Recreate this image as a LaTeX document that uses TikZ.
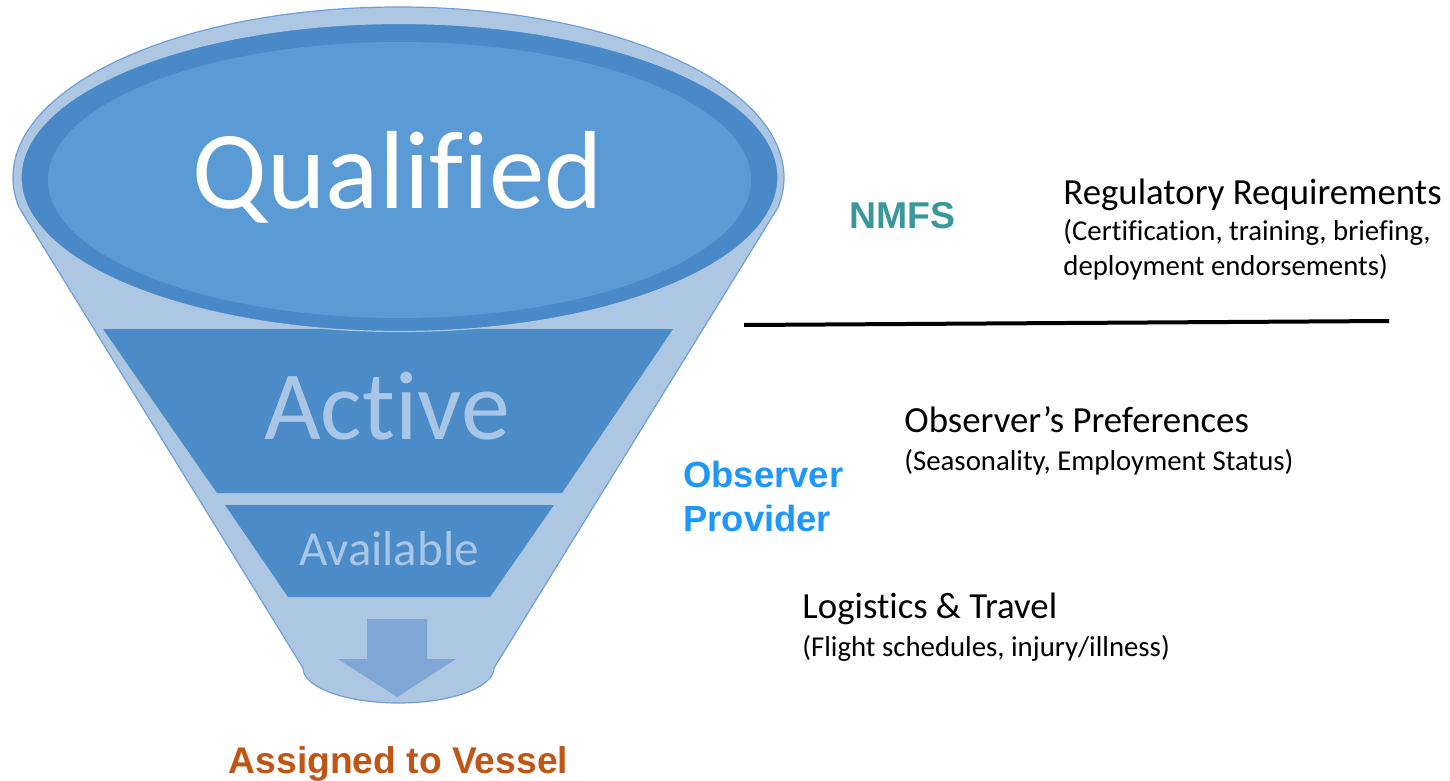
\documentclass[tikz,border=0pt]{standalone}
\usepackage{fontspec}
\setmainfont{Carlito}[Ligatures={NoCommon}]
\newfontfamily\arialfont{Liberation Sans}
\usetikzlibrary{calc}
\definecolor{funlight}{RGB}{173,199,226}
\definecolor{funedge}{RGB}{110,160,215}
\definecolor{fundark}{RGB}{74,137,199}
\definecolor{funinner}{RGB}{91,155,213}
\definecolor{funtrap}{RGB}{74,139,200}
\definecolor{funarrow}{RGB}{126,167,214}
\definecolor{txtlight}{RGB}{169,198,230}
\definecolor{nmfs}{RGB}{58,152,155}
\definecolor{provider}{RGB}{30,150,250}
\definecolor{assigned}{RGB}{192,86,22}
\tikzset{
  headtext/.style={anchor=base west, inner sep=0pt, font=\fontsize{18.4}{20}\selectfont},
  subtext/.style={anchor=base west, inner sep=0pt, font=\fontsize{14.4}{16}\selectfont},
  boldlabel/.style={anchor=base west, inner sep=0pt, font=\arialfont\bfseries\fontsize{18.2}{20}\selectfont},
  tierfill/.style={fill=funtrap, draw=none},
}
\begin{document}
\begin{tikzpicture}[x=0.5pt,y=-0.5pt]
\useasboundingbox (0,0) rectangle (1450,781);
% outer funnel body
\coordinate (topc) at (398.5,177.5);
\coordinate (botc) at (398.5,668);
\fill[funlight, draw=funedge, line width=0.6pt]
  ($(topc)+(170:385.5 and 170.5)$) arc[start angle=170, end angle=370, x radius=385.5, y radius=170.5]
  -- ($(botc)+(0:95.5 and 35)$) arc[start angle=0, end angle=180, x radius=95.5, y radius=35]
  -- cycle;
% tiers
\fill[tierfill] (103,329) -- (673,329) -- (562,493) -- (217,493) -- cycle;
\fill[tierfill] (225,505) -- (554,505) -- (490,597) -- (288,597) -- cycle;
% top ellipses
\fill[fundark, draw=funlight, line width=0.6pt] (399.5,177.5) ellipse[x radius=378.5, y radius=154];
\fill[funinner] (399.5,180) ellipse[x radius=351.5, y radius=138];
% arrow
\fill[funarrow] (367,619) -- (427,619) -- (427,659) -- (456,659) -- (397,697) -- (338,659) -- (367,659) -- cycle;
% funnel labels
\node[anchor=base, inner sep=0pt, text=white, font=\fontsize{55.5}{60}\selectfont] (qualified) at (398,208) {Qualified};
\node[anchor=base, inner sep=0pt, text=txtlight, font=\fontsize{49}{54}\selectfont] (active) at (387,439) {Active};
\node[anchor=base, inner sep=0pt, text=txtlight, font=\fontsize{24.5}{26}\selectfont] (available) at (389,565) {Available};
\node[anchor=base, inner sep=0pt, text=assigned, font=\arialfont\bfseries\fontsize{18.6}{20}\selectfont] (assigned) at (398.5,773) {Assigned to Vessel};
% right side
\node[boldlabel, text=nmfs, font=\arialfont\bfseries\fontsize{18.7}{20}\selectfont] (nmfs) at (849,228) {NMFS};
\node[headtext] (reg) at (1063,204) {Regulatory Requirements};
\node[subtext] (reg1) at (1063,240) {(Certification, training, briefing,};
\node[subtext] (reg2) at (1063,275) {deployment endorsements)};
\coordinate (lineL) at (744,325);
\coordinate (lineR) at (1389,321);
\draw[black, line width=2pt] (lineL) -- (lineR);
\node[headtext] (pref) at (904,432) {Observer’s Preferences};
\node[subtext] (pref1) at (904,470) {(Seasonality, Employment Status)};
\node[boldlabel, text=provider] (obs) at (683,487) {Observer};
\node[boldlabel, text=provider] (prov) at (683,531) {Provider};
\node[headtext] (log) at (802,618) {Logistics \& Travel};
\node[subtext] (log1) at (802,656) {(Flight schedules, injury/illness)};
\end{tikzpicture}
\end{document}
